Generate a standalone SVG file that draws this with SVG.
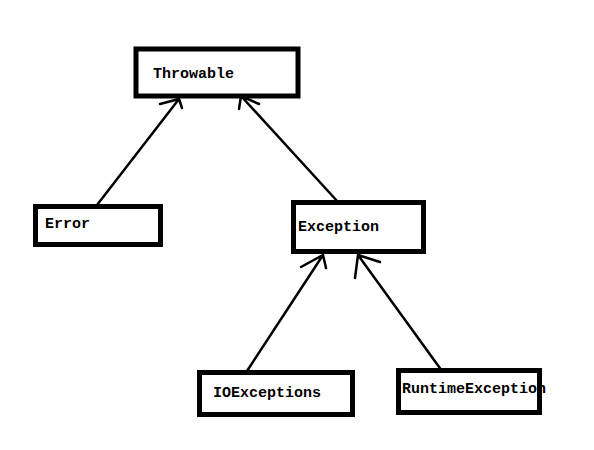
<svg xmlns="http://www.w3.org/2000/svg" width="594" height="450" viewBox="0 0 594 450">
<style>
.box{fill:#fff;stroke:#000;stroke-width:5}
.lbl{font-family:"Liberation Mono","DejaVu Sans Mono",monospace;font-size:15px;font-weight:bold;fill:#000}
.conn{fill:none;stroke:#000;stroke-width:2.5;stroke-linecap:round;stroke-linejoin:round}
</style>
<rect width="594" height="450" fill="#fff"/>
<g id="connectors">
<path class="conn" d="M97,205 L179,99 M160,104 L179,99 L182,108"/>
<path class="conn" d="M338,202 L241,96 M239,109 L241,96 L259,104"/>
<path class="conn" d="M247,371 L323,255 M301,267 L323,255 L326,268"/>
<path class="conn" d="M442,371 L358,255 M355,278 L358,255 L380,262"/>
</g>
<g id="throwable">
<rect class="box" x="136" y="49" width="162" height="47"/>
<text class="lbl" x="153" y="78">Throwable</text>
</g>
<g id="error">
<rect class="box" x="35.5" y="206.5" width="125" height="38"/>
<text class="lbl" x="45" y="228">Error</text>
</g>
<g id="exception">
<rect class="box" x="293.5" y="202.5" width="130" height="49"/>
<text class="lbl" x="298" y="231">Exception</text>
</g>
<g id="ioexceptions">
<rect class="box" x="199.5" y="372.5" width="153" height="42"/>
<text class="lbl" x="213" y="397">IOExceptions</text>
</g>
<g id="runtimeexception">
<rect class="box" x="398.5" y="370.5" width="141" height="42"/>
<text class="lbl" x="402" y="393">RuntimeException</text>
</g>
</svg>
